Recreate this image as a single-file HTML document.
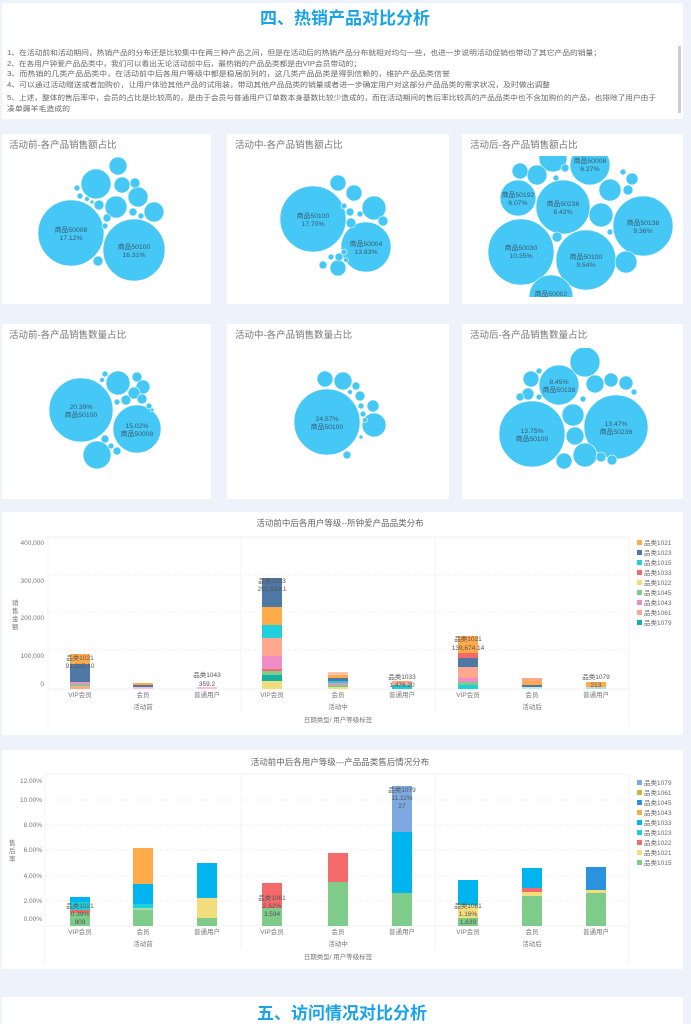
<!DOCTYPE html>
<html><head><meta charset="utf-8"><style>
html,body{margin:0;padding:0;background:#eef3fb;}
svg{display:block;font-family:"Liberation Sans","Noto Sans CJK SC",sans-serif;}
.t{fill:#666;font-size:7px}
.ct{fill:#777;font-size:9.5px}
.ax{fill:#777;font-size:6.5px}
.bl{fill:#555;font-size:6.5px;text-anchor:middle}
.lg{fill:#666;font-size:6.5px}
</style></head><body>
<svg width="691" height="1024" viewBox="0 0 691 1024">
<rect width="691" height="1024" fill="#eef3fb"/>
<!-- header card -->
<rect x="2" y="3" width="681" height="116" fill="#fff"/>
<text x="345" y="24" text-anchor="middle" font-size="17" font-weight="bold" fill="#1aa3e8">四、热销产品对比分析</text>
<rect x="678" y="46" width="3" height="67" fill="#ccc"/>
<text class="t" x="7" y="55" textLength="594" lengthAdjust="spacingAndGlyphs">1、在活动前和活动期间，热销产品的分布还是比较集中在两三种产品之间，但是在活动后的热销产品分布就相对均匀一些，也进一步说明活动促销也带动了其它产品的销量；</text>
<text class="t" x="7" y="66" textLength="354" lengthAdjust="spacingAndGlyphs">2、在各用户钟爱产品品类中，我们可以看出无论活动前中后，最热销的产品品类都是由VIP会员带动的；</text>
<text class="t" x="7" y="76" textLength="443" lengthAdjust="spacingAndGlyphs">3、而热销的几类产品品类中，在活动前中后各用户等级中都是稳居前列的，这几类产品品类是得到信赖的，维护产品品类信誉</text>
<text class="t" x="7" y="87" textLength="543" lengthAdjust="spacingAndGlyphs">4、可以通过活动赠送或者加购价，让用户体验其他产品的试用装，带动其他产品品类的销量或者进一步确定用户对这部分产品品类的需求状况，及时做出调整</text>
<text class="t" x="7" y="100" textLength="649" lengthAdjust="spacingAndGlyphs">5、上述，整体的售后率中，会员的占比是比较高的，是由于会员与普通用户订单数本身基数比较少造成的，而在活动期间的售后率比较高的产品品类中也不含加购价的产品，也排除了用户由于</text>
<text class="t" x="7" y="111" textLength="63" lengthAdjust="spacingAndGlyphs">凑单薅羊毛造成的</text>

<!-- bubble cards -->
<defs>
<clipPath id="c3"><rect x="462" y="156" width="221" height="141"/></clipPath>
<clipPath id="c6"><rect x="462" y="348" width="221" height="150"/></clipPath>
</defs>
<g fill="#fff">
<rect x="2" y="134" width="209" height="170"/><rect x="227" y="134" width="222" height="170"/><rect x="462" y="134" width="221" height="170"/>
<rect x="2" y="324" width="209" height="175"/><rect x="227" y="324" width="222" height="175"/><rect x="462" y="324" width="221" height="175"/>
</g>
<text class="ct" x="9" y="148">活动前-各产品销售额占比</text>
<text class="ct" x="235" y="148">活动中-各产品销售额占比</text>
<text class="ct" x="470" y="148">活动后-各产品销售额占比</text>
<text class="ct" x="9" y="338">活动前-各产品销售数量占比</text>
<text class="ct" x="235" y="338">活动中-各产品销售数量占比</text>
<text class="ct" x="470" y="338">活动后-各产品销售数量占比</text>

<g fill="#45c8f5" stroke="#fff" stroke-width="0.6">
<!-- card1 -->
<circle cx="71" cy="233" r="33"/><circle cx="134" cy="250" r="31"/>
<circle cx="96" cy="184" r="15"/><circle cx="118" cy="166" r="9"/><circle cx="122" cy="185" r="8"/>
<circle cx="138" cy="197" r="10"/><circle cx="116" cy="207" r="11"/><circle cx="154" cy="212" r="10"/>
<circle cx="135" cy="183" r="5"/><circle cx="98" cy="261" r="5"/><circle cx="99" cy="205" r="5"/>
<circle cx="107" cy="218" r="4"/><circle cx="133" cy="212" r="4"/><circle cx="141" cy="216" r="3"/>
<circle cx="77" cy="188" r="3"/><circle cx="80" cy="196" r="3"/><circle cx="87" cy="199" r="2.5"/><circle cx="92" cy="202" r="2"/><circle cx="105" cy="226" r="3"/>
<!-- card2 -->
<circle cx="313" cy="219" r="33"/><circle cx="366" cy="247" r="25"/>
<circle cx="338" cy="183" r="8"/><circle cx="354" cy="193" r="8"/><circle cx="374" cy="208" r="12"/>
<circle cx="383" cy="221" r="5"/><circle cx="338" cy="268" r="8"/><circle cx="323" cy="265" r="4"/>
<circle cx="350" cy="212" r="4"/><circle cx="351" cy="223" r="5"/><circle cx="360" cy="214" r="3"/><circle cx="344" cy="206" r="3"/>
<circle cx="344" cy="252" r="3"/><circle cx="339" cy="257" r="4"/><circle cx="331" cy="257" r="3"/><circle cx="346" cy="260" r="2.5"/>
<!-- card3 -->
<g clip-path="url(#c3)">
<circle cx="521" cy="252" r="33"/><circle cx="586" cy="260" r="30"/><circle cx="643" cy="226" r="30"/>
<circle cx="563" cy="207" r="27"/><circle cx="518" cy="198" r="18"/><circle cx="590" cy="165" r="20"/>
<circle cx="551" cy="297" r="22"/><circle cx="553" cy="158" r="14"/><circle cx="537" cy="175" r="10"/>
<circle cx="520" cy="171" r="8"/><circle cx="610" cy="190" r="11"/><circle cx="632" cy="179" r="6"/>
<circle cx="601" cy="215" r="12"/><circle cx="626" cy="262" r="11"/><circle cx="557" cy="237" r="5"/>
<circle cx="565" cy="168" r="4"/><circle cx="556" cy="178" r="3"/><circle cx="610" cy="232" r="3"/><circle cx="623" cy="172" r="3"/><circle cx="628" cy="190" r="5"/>
</g>
<!-- card4 -->
<circle cx="81" cy="410" r="32"/><circle cx="137" cy="429" r="24"/><circle cx="97" cy="455" r="14"/>
<circle cx="118" cy="383" r="12"/><circle cx="137" cy="377" r="5"/><circle cx="143" cy="387" r="7"/>
<circle cx="134" cy="393" r="6"/><circle cx="142" cy="399" r="5"/><circle cx="126" cy="400" r="5"/>
<circle cx="117" cy="451" r="4"/><circle cx="105" cy="439" r="4"/><circle cx="105" cy="374" r="3"/><circle cx="102" cy="380" r="2.5"/>
<circle cx="111" cy="446" r="3"/><circle cx="117" cy="402" r="3"/><circle cx="149" cy="406" r="3"/><circle cx="152" cy="410" r="2"/>
<!-- card5 -->
<circle cx="327" cy="422" r="33"/><circle cx="374" cy="425" r="12"/><circle cx="343" cy="381" r="9"/>
<circle cx="325" cy="379" r="8"/><circle cx="360" cy="396" r="5"/><circle cx="373" cy="406" r="6"/>
<circle cx="356" cy="386" r="4"/><circle cx="347" cy="455" r="4"/><circle cx="361" cy="406" r="3"/><circle cx="363" cy="414" r="3"/>
<circle cx="350" cy="392" r="2.5"/><circle cx="365" cy="420" r="2.5"/><circle cx="361" cy="437" r="2"/>
<!-- card6 -->
<g clip-path="url(#c6)">
<circle cx="532" cy="434" r="33"/><circle cx="616" cy="427" r="32"/><circle cx="559" cy="385" r="20"/>
<circle cx="585" cy="362" r="15"/><circle cx="573" cy="415" r="11"/><circle cx="575" cy="436" r="9"/>
<circle cx="585" cy="455" r="12"/><circle cx="564" cy="461" r="8"/><circle cx="595" cy="384" r="9"/>
<circle cx="611" cy="380" r="7"/><circle cx="626" cy="383" r="7"/><circle cx="531" cy="379" r="8"/>
<circle cx="528" cy="394" r="6"/><circle cx="601" cy="457" r="5"/><circle cx="612" cy="460" r="5"/>
<circle cx="520" cy="397" r="4"/><circle cx="539" cy="371" r="3"/><circle cx="583" cy="399" r="3"/><circle cx="634" cy="392" r="3"/><circle cx="539" cy="397" r="3"/>
</g>
</g>
<g fill="#3b5a6e" font-size="6.8" text-anchor="middle">
<text x="71" y="232">商品50008</text><text x="71" y="240">17.12%</text>
<text x="134" y="249">商品50100</text><text x="134" y="257">16.31%</text>
<text x="313" y="218">商品50100</text><text x="313" y="226">17.70%</text>
<text x="366" y="246">商品50004</text><text x="366" y="254">13.83%</text>
<text x="590" y="163">商品50008</text><text x="590" y="171">6.27%</text>
<text x="518" y="197">商品50192</text><text x="518" y="205">6.07%</text>
<text x="563" y="206">商品50236</text><text x="563" y="214">8.42%</text>
<text x="643" y="225">商品50138</text><text x="643" y="233">9.36%</text>
<text x="521" y="250">商品50030</text><text x="521" y="258">10.35%</text>
<text x="586" y="259">商品50100</text><text x="586" y="267">9.54%</text>
<text x="551" y="296">商品50002</text>
<text x="81" y="409">20.39%</text><text x="81" y="417">商品50100</text>
<text x="137" y="428">15.02%</text><text x="137" y="436">商品50008</text>
<text x="327" y="421">24.57%</text><text x="327" y="429">商品50100</text>
<text x="559" y="384">8.45%</text><text x="559" y="392">商品50138</text>
<text x="532" y="433">13.75%</text><text x="532" y="441">商品50100</text>
<text x="616" y="426">13.47%</text><text x="616" y="434">商品50236</text>
</g>

<!-- Chart 1 -->
<rect x="2" y="512" width="681" height="223" fill="#fff"/>
<text x="340" y="526" text-anchor="middle" font-size="8.5" fill="#666">活动前中后各用户等级--所钟爱产品品类分布</text>
<g stroke="#eee" stroke-width="0.7">
<line x1="48" y1="537" x2="629" y2="537"/><line x1="48" y1="575" x2="629" y2="575" stroke-dasharray="3,2"/>
<line x1="48" y1="612" x2="629" y2="612" stroke-dasharray="3,2"/><line x1="48" y1="650" x2="629" y2="650" stroke-dasharray="3,2"/>
<line x1="48" y1="689" x2="629" y2="689"/>
<line x1="48" y1="537" x2="48" y2="727"/><line x1="241" y1="537" x2="241" y2="713"/><line x1="435" y1="537" x2="435" y2="713"/><line x1="629" y1="537" x2="629" y2="727"/>
</g>
<g class="ax" text-anchor="end">
<text x="44" y="545">400,000</text><text x="44" y="583">300,000</text><text x="44" y="620">200,000</text><text x="44" y="658">100,000</text><text x="44" y="686">0</text>
</g>
<text class="ax" x="12" y="605" font-size="6.5">销</text><text class="ax" x="12" y="613">售</text><text class="ax" x="12" y="621">金</text><text class="ax" x="12" y="629">额</text>
<g>
<!-- VIP前 -->
<rect x="70" y="654" width="20" height="10" fill="#ffab4a"/><rect x="70" y="664" width="20" height="18" fill="#4e79a7"/>
<rect x="70" y="682" width="20" height="2" fill="#f08cc6"/><rect x="70" y="684" width="20" height="2" fill="#7fcc8a"/><rect x="70" y="686" width="20" height="3" fill="#ffa78f"/>
<!-- 会员前 -->
<rect x="133" y="683" width="20" height="2" fill="#ffab4a"/><rect x="133" y="685" width="20" height="2" fill="#4e79a7"/><rect x="133" y="687" width="20" height="2" fill="#f5c1e0"/>
<rect x="197" y="687" width="20" height="2" fill="#f5c1e0"/>
<!-- VIP中 -->
<rect x="262" y="578" width="20" height="29" fill="#4e79a7"/><rect x="262" y="607" width="20" height="18" fill="#ffab4a"/>
<rect x="262" y="625" width="20" height="13" fill="#1fcfdc"/><rect x="262" y="638" width="20" height="18" fill="#ffa78f"/>
<rect x="262" y="656" width="20" height="13" fill="#f08cc6"/><rect x="262" y="669" width="20" height="2" fill="#f46a6a"/>
<rect x="262" y="671" width="20" height="4" fill="#7fcc8a"/><rect x="262" y="675" width="20" height="6" fill="#14b1a7"/><rect x="262" y="681" width="20" height="8" fill="#f2dd7c"/>
<!-- 会员中 -->
<rect x="328" y="672" width="20" height="3" fill="#ffc4b0"/><rect x="328" y="675" width="20" height="3" fill="#ffab4a"/><rect x="328" y="678" width="20" height="3" fill="#4e79a7"/>
<rect x="328" y="681" width="20" height="2" fill="#1fcfdc"/><rect x="328" y="683" width="20" height="2" fill="#f08cc6"/><rect x="328" y="685" width="20" height="2" fill="#7fcc8a"/><rect x="328" y="687" width="20" height="2" fill="#f2dd7c"/>
<!-- 普通中 -->
<rect x="392" y="681" width="20" height="4" fill="#ffa78f"/><rect x="392" y="685" width="20" height="4" fill="#1fcfdc"/>
<!-- VIP后 -->
<rect x="458" y="636" width="20" height="17" fill="#ffab4a"/><rect x="458" y="653" width="20" height="5" fill="#f46a6a"/>
<rect x="458" y="658" width="20" height="9" fill="#4e79a7"/><rect x="458" y="667" width="20" height="11" fill="#ffa78f"/>
<rect x="458" y="678" width="20" height="4" fill="#f08cc6"/><rect x="458" y="682" width="20" height="3" fill="#7fcc8a"/><rect x="458" y="685" width="20" height="4" fill="#1fcfdc"/>
<!-- 会员后 -->
<rect x="522" y="678" width="20" height="3" fill="#ffa78f"/><rect x="522" y="681" width="20" height="4" fill="#ffab4a"/><rect x="522" y="685" width="20" height="2" fill="#4e79a7"/><rect x="522" y="687" width="20" height="2" fill="#bfeaea"/>
<!-- 普通后 -->
<rect x="586" y="682" width="20" height="5" fill="#ffab4a"/><rect x="586" y="687" width="20" height="2" fill="#b8dde6"/>
</g>
<g class="bl">
<text x="80" y="660">品类1021</text><text x="80" y="668">91,315.10</text>
<text x="207" y="677">品类1043</text><text x="207" y="686">359.2</text>
<text x="272" y="583">品类1023</text><text x="272" y="591">291,939.1</text>
<text x="402" y="679">品类1033</text><text x="402" y="687">1,476.20</text>
<text x="468" y="641">品类1021</text><text x="468" y="650">139,674.14</text>
<text x="596" y="679">品类1079</text><text x="596" y="687">213</text>
</g>
<g class="ax" text-anchor="middle">
<text x="80" y="697">VIP会员</text><text x="143" y="697">会员</text><text x="207" y="697">普通用户</text>
<text x="272" y="697">VIP会员</text><text x="338" y="697">会员</text><text x="402" y="697">普通用户</text>
<text x="468" y="697">VIP会员</text><text x="532" y="697">会员</text><text x="596" y="697">普通用户</text>
<text x="143" y="709">活动前</text><text x="338" y="709">活动中</text><text x="532" y="709">活动后</text>
<text x="338" y="722">日期类型/ 用户等级标签</text>
</g>
<g class="lg">
<rect x="637" y="540" width="5" height="5" fill="#ffab4a"/><text x="644" y="545">品类1021</text>
<rect x="637" y="550" width="5" height="5" fill="#4e79a7"/><text x="644" y="555">品类1023</text>
<rect x="637" y="560" width="5" height="5" fill="#1fcfdc"/><text x="644" y="565">品类1015</text>
<rect x="637" y="570" width="5" height="5" fill="#f46a6a"/><text x="644" y="575">品类1033</text>
<rect x="637" y="580" width="5" height="5" fill="#f2dd7c"/><text x="644" y="585">品类1022</text>
<rect x="637" y="590" width="5" height="5" fill="#7fcc8a"/><text x="644" y="595">品类1045</text>
<rect x="637" y="600" width="5" height="5" fill="#f08cc6"/><text x="644" y="605">品类1043</text>
<rect x="637" y="610" width="5" height="5" fill="#ffa78f"/><text x="644" y="615">品类1061</text>
<rect x="637" y="620" width="5" height="5" fill="#14b1a7"/><text x="644" y="625">品类1079</text>
</g>

<!-- Chart 2 -->
<rect x="2" y="750" width="681" height="219" fill="#fff"/>
<text x="340" y="765" text-anchor="middle" font-size="8.5" fill="#666">活动前中后各用户等级---产品品类售后情况分布</text>
<g stroke="#eee" stroke-width="0.7">
<line x1="45" y1="774" x2="629" y2="774"/><line x1="45" y1="800" x2="629" y2="800" stroke-dasharray="3,2"/>
<line x1="45" y1="825" x2="629" y2="825" stroke-dasharray="3,2"/><line x1="45" y1="850" x2="629" y2="850" stroke-dasharray="3,2"/>
<line x1="45" y1="876" x2="629" y2="876" stroke-dasharray="3,2"/><line x1="45" y1="901" x2="629" y2="901" stroke-dasharray="3,2"/>
<line x1="45" y1="926" x2="629" y2="926"/>
<line x1="45" y1="774" x2="45" y2="965"/><line x1="241" y1="774" x2="241" y2="950"/><line x1="435" y1="774" x2="435" y2="950"/><line x1="629" y1="774" x2="629" y2="965"/>
</g>
<g class="ax" text-anchor="end">
<text x="42" y="783">12.00%</text><text x="42" y="802">10.00%</text><text x="42" y="827">8.00%</text><text x="42" y="852">6.00%</text>
<text x="42" y="878">4.00%</text><text x="42" y="903">2.00%</text><text x="42" y="921">0.00%</text>
</g>
<text class="ax" x="9" y="845">售</text><text class="ax" x="9" y="853">后</text><text class="ax" x="9" y="861">率</text>
<g>
<rect x="70" y="897" width="20" height="5" fill="#00b4ef"/><rect x="70" y="902" width="20" height="8" fill="#1fcfdc"/>
<rect x="70" y="910" width="20" height="3" fill="#f46a6a"/><rect x="70" y="913" width="20" height="13" fill="#7fcc8a"/>
<rect x="133" y="848" width="20" height="36" fill="#ffab4a"/><rect x="133" y="884" width="20" height="20" fill="#00b4ef"/>
<rect x="133" y="904" width="20" height="4" fill="#1fcfdc"/><rect x="133" y="908" width="20" height="2" fill="#a6dcae"/><rect x="133" y="910" width="20" height="16" fill="#7fcc8a"/>
<rect x="197" y="863" width="20" height="35" fill="#00b4ef"/><rect x="197" y="898" width="20" height="20" fill="#f2dd7c"/><rect x="197" y="918" width="20" height="8" fill="#7fcc8a"/>
<rect x="262" y="883" width="20" height="25" fill="#f46a6a"/><rect x="262" y="908" width="20" height="18" fill="#7fcc8a"/>
<rect x="328" y="853" width="20" height="29" fill="#f46a6a"/><rect x="328" y="882" width="20" height="44" fill="#7fcc8a"/>
<rect x="392" y="786" width="20" height="46" fill="#7ea9e0"/><rect x="392" y="832" width="20" height="61" fill="#00b4ef"/><rect x="392" y="893" width="20" height="33" fill="#7fcc8a"/>
<rect x="458" y="880" width="20" height="25" fill="#00b4ef"/><rect x="458" y="905" width="20" height="13" fill="#f2dd7c"/><rect x="458" y="918" width="20" height="8" fill="#7fcc8a"/>
<rect x="522" y="868" width="20" height="20" fill="#00b4ef"/><rect x="522" y="888" width="20" height="4" fill="#f46a6a"/><rect x="522" y="892" width="20" height="4" fill="#f2dd7c"/><rect x="522" y="896" width="20" height="30" fill="#7fcc8a"/>
<rect x="586" y="867" width="20" height="23" fill="#2b93dd"/><rect x="586" y="890" width="20" height="3" fill="#f2dd7c"/><rect x="586" y="893" width="20" height="33" fill="#7fcc8a"/>
</g>
<g class="bl">
<text x="80" y="908">品类1021</text><text x="80" y="916">0.39%</text><text x="80" y="924">909</text>
<text x="272" y="900">品类1061</text><text x="272" y="908">2.62%</text><text x="272" y="916">3,594</text>
<text x="402" y="792">品类1079</text><text x="402" y="800">11.11%</text><text x="402" y="808">27</text>
<text x="468" y="908">品类1061</text><text x="468" y="916">1.16%</text><text x="468" y="924">1,639</text>
</g>
<g class="ax" text-anchor="middle">
<text x="80" y="934">VIP会员</text><text x="143" y="934">会员</text><text x="207" y="934">普通用户</text>
<text x="272" y="934">VIP会员</text><text x="338" y="934">会员</text><text x="402" y="934">普通用户</text>
<text x="468" y="934">VIP会员</text><text x="532" y="934">会员</text><text x="596" y="934">普通用户</text>
<text x="143" y="946">活动前</text><text x="338" y="946">活动中</text><text x="532" y="946">活动后</text>
<text x="338" y="959">日期类型/ 用户等级标签</text>
</g>
<g class="lg">
<rect x="637" y="780" width="5" height="5" fill="#7ea9e0"/><text x="644" y="785">品类1079</text>
<rect x="637" y="790" width="5" height="5" fill="#c4b93a"/><text x="644" y="795">品类1061</text>
<rect x="637" y="800" width="5" height="5" fill="#2b93dd"/><text x="644" y="805">品类1045</text>
<rect x="637" y="810" width="5" height="5" fill="#ffab4a"/><text x="644" y="815">品类1043</text>
<rect x="637" y="820" width="5" height="5" fill="#00b4ef"/><text x="644" y="825">品类1033</text>
<rect x="637" y="830" width="5" height="5" fill="#1fcfdc"/><text x="644" y="835">品类1023</text>
<rect x="637" y="840" width="5" height="5" fill="#f46a6a"/><text x="644" y="845">品类1022</text>
<rect x="637" y="850" width="5" height="5" fill="#f2dd7c"/><text x="644" y="855">品类1021</text>
<rect x="637" y="860" width="5" height="5" fill="#7fcc8a"/><text x="644" y="865">品类1015</text>
</g>

<!-- bottom card -->
<rect x="2" y="997" width="681" height="27" fill="#fff"/>
<text x="342" y="1019" text-anchor="middle" font-size="17" font-weight="bold" fill="#1aa3e8">五、访问情况对比分析</text>
</svg>
</body></html>
